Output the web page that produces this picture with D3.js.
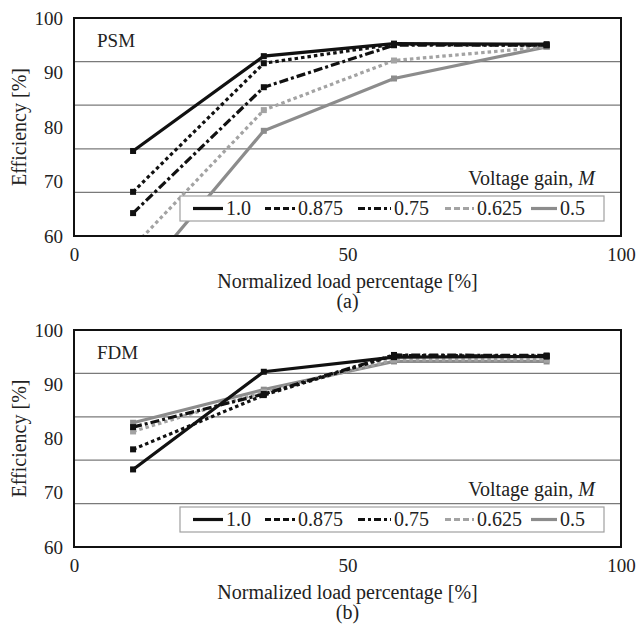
<!DOCTYPE html>
<html>
<head>
<meta charset="utf-8">
<script src="https://cdn.jsdelivr.net/npm/d3@7"></script>
<style>
  html, body { margin: 0; padding: 0; background: #fff; }
  svg text { font-family: "Liberation Serif", "Times New Roman", serif; fill: #222; }
</style>
</head>
<body>
<svg id="chart" width="638" height="631"></svg>
<script>
// ---- data ----
const loadPct = [10.8, 34.7, 58.5, 86.4];
const gainLabels = ["1.0", "0.875", "0.75", "0.625", "0.5"];

// PSM efficiencies [%] per voltage gain
const psm_1_0   = [75.6, 93.0, 95.3, 95.2];
const psm_0_875 = [68.1, 91.7, 95.2, 95.0];
const psm_0_75  = [64.2, 87.3, 95.0, 95.0];
const psm_0_625 = [58.0, 83.1, 92.2, 94.7];
const psm_0_5   = [50.8, 79.3, 88.9, 94.7];

// FDM efficiencies [%] per voltage gain
const fdm_1_0   = [74.3, 92.3, 95.0, 95.1];
const fdm_0_875 = [78.0, 88.0, 95.3, 95.2];
const fdm_0_75  = [82.1, 88.2, 95.4, 95.3];
const fdm_0_625 = [81.3, 88.6, 94.5, 94.5];
const fdm_0_5   = [82.9, 89.0, 94.2, 94.2];

const yTicks = [60, 70, 80, 90, 100];
const xTicks = [0, 50, 100];
const gridValues = [68, 76, 84, 92];

// ---- styles ----
const seriesStyle = [
  { color: "#111",    dash: null,          legendDash: null },
  { color: "#111",    dash: "3.5,3",       legendDash: "6,3" },
  { color: "#111",    dash: "9,3,3,3",     legendDash: "7,3,3,3" },
  { color: "#a3a3a3", dash: "3.5,3",       legendDash: "6,3" },
  { color: "#8c8c8c", dash: null,          legendDash: null }
];

const panels = [
  { name: "PSM", tag: "(a)", top: 18, bottom: 236,
    series: [psm_1_0, psm_0_875, psm_0_75, psm_0_625, psm_0_5] },
  { name: "FDM", tag: "(b)", top: 330, bottom: 547,
    series: [fdm_1_0, fdm_0_875, fdm_0_75, fdm_0_625, fdm_0_5] }
];

const svg = d3.select("#chart");
const left = 74, right = 621;
const x = d3.scaleLinear().domain([0, 100]).range([left, right]);

panels.forEach((p, pi) => {
  const y = d3.scaleLinear().domain([60, 100]).range([p.bottom, p.top]);
  const g = svg.append("g");

  const clipId = "clip" + pi;
  g.append("clipPath").attr("id", clipId)
    .append("rect").attr("x", left).attr("y", p.top)
    .attr("width", right - left).attr("height", p.bottom - p.top);

  // gridlines
  g.selectAll(".grid").data(gridValues).enter().append("line")
    .attr("x1", left).attr("x2", right)
    .attr("y1", d => y(d)).attr("y2", d => y(d))
    .attr("stroke", "#7a7a7a").attr("stroke-width", 1.2);

  // y axis labels
  const yAxis = d3.axisLeft(y).tickValues(yTicks).tickSize(0).tickPadding(11);
  const ya = g.append("g").attr("transform", `translate(${left},0)`).call(yAxis);
  ya.select(".domain").remove();
  ya.selectAll("text").attr("font-size", 19).attr("fill", "#222")
    .attr("font-family", "Liberation Serif, serif");

  // x axis labels
  const xAxis = d3.axisBottom(x).tickValues(xTicks).tickSize(0).tickPadding(12);
  const xa = g.append("g").attr("transform", `translate(0,${p.bottom})`).call(xAxis);
  xa.select(".domain").remove();
  xa.selectAll("text").attr("font-size", 19).attr("fill", "#222")
    .attr("font-family", "Liberation Serif, serif");

  // series lines
  const line = d3.line().x((d, i) => x(loadPct[i])).y(d => y(d));
  const lg = g.append("g").attr("clip-path", `url(#${clipId})`);
  p.series.slice().reverse().forEach((vals, ri) => {
    const si = p.series.length - 1 - ri;
    const st = seriesStyle[si];
    lg.append("path").datum(vals)
      .attr("d", line)
      .attr("fill", "none")
      .attr("stroke", st.color)
      .attr("stroke-width", 3.2)
      .attr("stroke-dasharray", st.dash)
      .attr("stroke-linejoin", "miter");
    lg.selectAll(null).data(vals).enter().append("rect")
      .attr("x", (d, i) => x(loadPct[i]) - 3)
      .attr("y", d => y(d) - 3)
      .attr("width", 6).attr("height", 6)
      .attr("fill", st.color);
  });

  // plot border
  g.append("rect").attr("x", left).attr("y", p.top)
    .attr("width", right - left).attr("height", p.bottom - p.top)
    .attr("fill", "none").attr("stroke", "#111").attr("stroke-width", 2);

  // panel name
  g.append("text").attr("x", 97).attr("y", p.top + 29)
    .attr("font-size", 19).text(p.name);

  // legend title
  const lt = g.append("text").attr("x", 595).attr("y", p.bottom - 51)
    .attr("text-anchor", "end").attr("font-size", 20);
  lt.append("tspan").text("Voltage gain, ");
  lt.append("tspan").attr("font-style", "italic").text("M");

  // legend box
  const ly0 = p.bottom - 40, lh = 25;
  g.append("rect").attr("x", 180).attr("y", ly0).attr("width", 424).attr("height", lh)
    .attr("fill", "#fff").attr("stroke", "#a0a0a0").attr("stroke-width", 1.2);
  const itemX = [193, 265, 358, 445, 531];
  const itemW = [30, 30, 33, 29, 26];
  gainLabels.forEach((lab, i) => {
    const st = seriesStyle[i];
    const cy = ly0 + lh / 2;
    g.append("line").attr("x1", itemX[i]).attr("x2", itemX[i] + itemW[i])
      .attr("y1", cy).attr("y2", cy)
      .attr("stroke", st.color).attr("stroke-width", 3.2)
      .attr("stroke-dasharray", st.legendDash);
    g.append("text").attr("x", itemX[i] + itemW[i] + 3).attr("y", cy + 6.5)
      .attr("font-size", 20).text(lab);
  });

  // axis titles
  g.append("text").attr("x", (left + right) / 2).attr("y", p.bottom + 52)
    .attr("text-anchor", "middle").attr("font-size", 20)
    .text("Normalized load percentage [%]");
  g.append("text").attr("x", (left + right) / 2).attr("y", p.bottom + 72)
    .attr("text-anchor", "middle").attr("font-size", 20).text(p.tag);
  g.append("text")
    .attr("transform", `translate(26,${(p.top + p.bottom) / 2}) rotate(-90)`)
    .attr("text-anchor", "middle").attr("font-size", 20)
    .text("Efficiency [%]");
});
</script>
</body>
</html>
